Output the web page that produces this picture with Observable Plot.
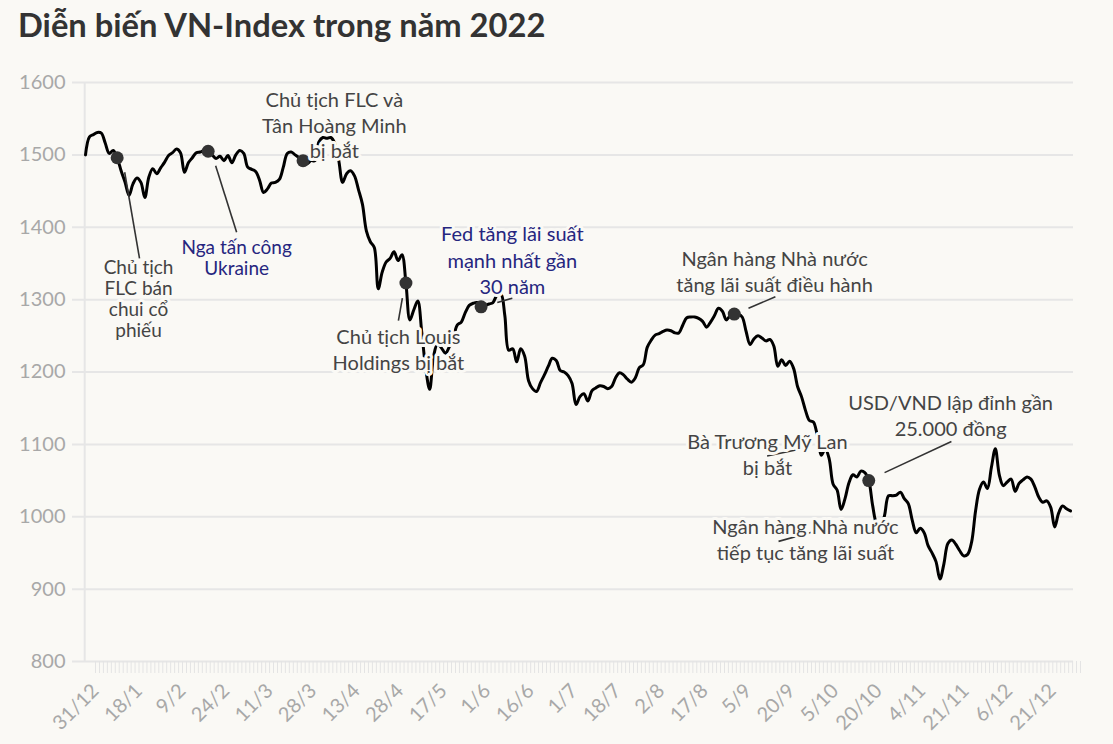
<!DOCTYPE html>
<html><head><meta charset="utf-8">
<script src="https://cdn.jsdelivr.net/npm/d3@7"></script>
<script src="https://cdn.jsdelivr.net/npm/@observablehq/plot@0.6"></script>
<style>
body{margin:0;background:#faf9f5;width:1113px;height:744px;overflow:hidden;position:relative;font-family:Lato,"Open Sans",sans-serif}
#title{position:absolute;left:18px;top:6px;font-weight:700;font-size:32.7px;line-height:38px;color:#333;white-space:nowrap}
#chart{position:absolute;left:0;top:50px}
</style></head><body>
<div id="title">Diễn biến VN-Index trong năm 2022</div>
<div id="chart"></div>
<script>
// x tick labels: one every 11 trading sessions, starting 31/12/2021
const tickLabels = ["31/12","18/1","9/2","24/2","11/3","28/3","13/4","28/4","17/5","1/6","16/6","1/7","18/7","2/8","17/8","5/9","20/9","5/10","20/10","4/11","21/11","6/12","21/12"];
const tickStep = 11;
const yTicks = [800, 900, 1000, 1100, 1200, 1300, 1400, 1500, 1600];

// VN-Index close, one value per trading session
const vnIndex = [
1500,1525,1528,1531,1530,1516,1502,1506,1496,1478,
1462,1444,1460,1468,1462,1441,1469,1481,1474,1482,
1490,1499,1503,1508,1503,1476,1489,1496,1503,1504,
1506,1505,1500,1495,1498,1492,1499,1489,1500,1506,
1502,1483,1480,1477,1465,1448,1453,1461,1462,1466,
1483,1502,1504,1500,1496,1492,1488,1492,1492,1518,
1524,1523,1524,1516,1493,1462,1474,1478,1471,1452,
1432,1395,1380,1372,1315,1338,1352,1357,1366,1354,
1362,1323,1272,1286,1298,1255,1205,1176,1222,1239,
1233,1226,1235,1248,1265,1269,1282,1292,1295,1296,
1290,1292,1294,1296,1306,1308,1278,1230,1232,1214,
1232,1222,1188,1177,1173,1185,1196,1208,1219,1216,
1202,1200,1195,1184,1155,1166,1170,1160,1174,1178,
1181,1180,1177,1180,1192,1199,1196,1190,1186,1192,
1206,1210,1234,1244,1251,1253,1256,1258,1257,1254,
1254,1265,1275,1276,1276,1274,1270,1262,1269,1278,
1288,1284,1272,1278,1280,1280,1276,1256,1238,1246,
1250,1247,1243,1245,1236,1208,1217,1209,1215,1205,
1180,1166,1147,1133,1131,1112,1085,1094,1080,1045,
1037,1010,1025,1047,1058,1055,1063,1061,1050,1015,
990,985,1002,1029,1029,1030,1034,1025,1018,995,
978,984,978,960,950,938,914,935,963,968,
962,953,946,948,965,1008,1038,1048,1039,1068,
1094,1058,1043,1048,1052,1035,1046,1051,1055,1052,
1041,1027,1020,1022,1013,986,1005,1015,1011,1008
];

// Events: session index of the marked point, label text, colour
const eventIndex = [8, 31, 55, 81, 100, 164, 198];
const eventText = [
  "Chủ tịch\nFLC bán\nchui cổ\nphiếu",
  "Nga tấn công\nUkraine",
  "Chủ tịch FLC và\nTân Hoàng Minh\nbị bắt",
  "Chủ tịch Louis\nHoldings bị bắt",
  "Fed tăng lãi suất\nmạnh nhất gần\n30 năm",
  "Ngân hàng Nhà nước\ntăng lãi suất điều hành",
  "USD/VND lập đỉnh gần\n25.000 đồng"
];
const eventColor = ["#444","#26267f","#444","#444","#26267f","#444","#444"];
// label anchor (session index, index value), font size and line spacing
const labelX = [13.4, 38.2, 62.9, 79.1, 107.9, 174.2, 218.7];
const labelY = [1301, 1358, 1542, 1232, 1356, 1340, 1141];
const labelFS = [19, 19, 20, 20, 20, 20, 20];
const labelLH = [1.11, 1.12, 1.27, 1.3, 1.32, 1.3, 1.3];
// connectors: [x1, y1, x2, y2] in session index / index value
const connectors = [
  [9.9, 1476, 13.65, 1357],
  [32.9, 1485, 38.2, 1393],
  [80.1, 1302, 79.1, 1271],
  [104.1, 1296, 107.9, 1302],
  [167.6, 1288, 174.4, 1304],
  [202.0, 1061, 218.9, 1104],
  [172.3, 1084, 182.0, 1095],
  [175.2, 966, 184.5, 980]
];
// labels without a dot
const extraText = ["Bà Trương Mỹ Lan\nbị bắt", "Ngân hàng Nhà nước\ntiếp tục tăng lãi suất"];
const extraX = [172.4, 182.0];
const extraY = [1087, 970];

const bg = "#faf9f5";
const series = vnIndex.map((v, i) => ({i, v}));
const events = eventIndex.map((i, k) => ({i, v: vnIndex[i], text: eventText[k], color: eventColor[k], lx: labelX[k], ly: labelY[k], lh: labelLH[k], fs: labelFS[k]}));
const extras = extraText.map((t, k) => ({text: t, lx: extraX[k], ly: extraY[k]}));
const links = connectors.map(([x1, y1, x2, y2]) => ({x1, y1, x2, y2}));

const labelMarks = events.map(e => Plot.text([e], {
  x: "lx", y: "ly", text: "text", fill: e.color, fontSize: e.fs, lineHeight: e.lh,
  lineAnchor: "middle", textAnchor: "middle", stroke: bg, strokeWidth: 6, paintOrder: "stroke"
}));

const chart = Plot.plot({
  width: 1113,
  height: 694,
  marginTop: 32,
  marginBottom: 83,
  marginLeft: 72,
  marginRight: 40,
  style: {background: "transparent", fontFamily: "Lato, 'Open Sans', sans-serif"},
  x: {domain: [-3.29, 249.76]},
  y: {domain: [800, 1600]},
  marks: [
    Plot.ruleY(yTicks, {stroke: "#e6e6e6", strokeWidth: 2}),
    Plot.ruleX([-0.2], {y1: 800, y2: 1600, stroke: "#e6e6e6", strokeWidth: 2}),
    Plot.axisY({ticks: yTicks, tickSize: 0, tickPadding: 7, tickFormat: d3.format("d"), fill: "#a8a8a8", fontSize: 20, label: null}),
    Plot.axisX({
      ticks: d3.range(vnIndex.length),
      tickSize: 12,
      stroke: "#e4e4e4",
      tickFormat: d => d % tickStep === 0 ? tickLabels[d / tickStep] : "",
      tickRotate: -45,
      tickPadding: 14,
      dx: 10,
      fill: "#a8a8a8",
      fontSize: 20,
      label: null
    }),
    Plot.line(series, {x: "i", y: "v", stroke: "#000", strokeWidth: 3, curve: "catmull-rom"}),
    Plot.link(links, {x1: "x1", y1: "y1", x2: "x2", y2: "y2", stroke: "#333", strokeWidth: 1.6}),
    Plot.dot(events, {x: "i", y: "v", r: 6.5, fill: "#333"}),
    ...labelMarks,
    Plot.text(extras, {x: "lx", y: "ly", text: "text", fill: "#444", fontSize: 20, lineHeight: 1.3,
      lineAnchor: "middle", textAnchor: "middle", stroke: bg, strokeWidth: 6, paintOrder: "stroke"})
  ]
});
document.getElementById("chart").appendChild(chart);
</script>
</body></html>
